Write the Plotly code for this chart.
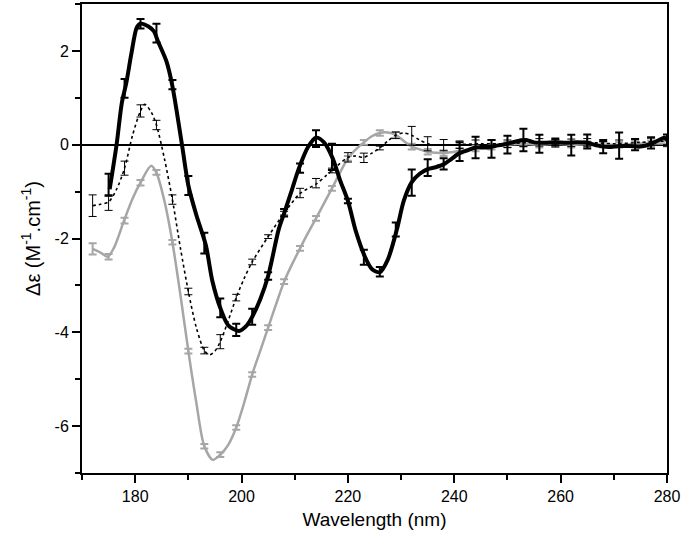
import plotly.graph_objects as go

# ---- black thick series (line) ----
black_wl = [175.2, 176.5, 177.5, 178.3, 179.3, 180.3, 181.0, 182.5, 183.5, 184.3, 185.9, 187.0,
            188.8, 190.0, 191.5, 193.3, 194.5, 196.0, 197.5, 199.5, 201.0, 202.0, 203.5, 205.0,
            207.0, 208.2, 209.5, 210.8, 212.5, 214.0, 215.5, 217.1, 218.5, 220.0, 221.5, 223.2,
            224.5, 226.0, 227.5, 229.2, 230.5, 232.0, 233.5, 235.0, 236.5, 238.0, 239.5, 241.0,
            242.5, 244.0, 246.0, 248.0, 250.0, 252.0, 253.5, 255.0, 257.0, 259.0, 261.0, 263.0,
            265.0, 267.0, 269.0, 271.0, 273.0, 275.0, 277.0, 278.5, 279.5, 280.0]
black_de = [-0.95, 0.0, 0.9, 1.3, 1.95, 2.5, 2.58, 2.52, 2.42, 2.2, 1.77, 1.25,
            0.0, -0.87, -1.5, -2.15, -2.9, -3.48, -3.85, -3.97, -3.85, -3.67, -3.3, -2.8,
            -1.8, -1.4, -0.95, -0.5, -0.05, 0.15, 0.05, -0.28, -0.75, -1.2, -1.85, -2.39,
            -2.65, -2.72, -2.45, -1.81, -1.2, -0.8, -0.62, -0.52, -0.48, -0.42, -0.3, -0.18,
            -0.12, -0.06, -0.06, -0.02, 0.02, 0.08, 0.1, 0.05, 0.04, 0.05, 0.04, 0.05,
            0.04, -0.02, -0.05, -0.03, -0.03, -0.04, 0.02, 0.1, 0.15, 0.1]
# ---- black error bars ----
black_err_wl = [175, 178, 181, 184, 187, 190, 193, 196, 199, 202, 205, 208, 211, 214, 217, 220,
                223, 226, 229, 232, 235, 238, 241, 244, 247, 250, 253, 256, 259, 262, 265, 268,
                271, 274, 277, 280]
black_err_de = [-0.85, 1.2, 2.58, 2.38, 1.28, -0.87, -2.1, -3.48, -3.95, -3.67, -2.8, -1.45,
                -0.5, 0.13, -0.26, -1.2, -2.4, -2.71, -1.81, -0.81, -0.49, -0.41, -0.15, -0.06,
                -0.09, 0.0, 0.1, 0.02, 0.06, -0.01, 0.07, -0.05, -0.02, 0.0, 0.04, 0.1]
black_err_sd = [0.23, 0.2, 0.1, 0.2, 0.1, 0.2, 0.22, 0.2, 0.13, 0.17, 0.08, 0.08,
                0.1, 0.18, 0.28, 0.05, 0.16, 0.1, 0.15, 0.28, 0.18, 0.12, 0.2, 0.23,
                0.19, 0.19, 0.24, 0.19, 0.07, 0.22, 0.15, 0.13, 0.28, 0.12, 0.12, 0.12]

# ---- dotted series (line) ----
dot_wl = [172.0, 173.5, 175.0, 176.5, 178.0, 179.5, 181.0, 181.8, 183.0, 184.0, 185.5, 187.0,
          188.5, 190.0, 191.5, 193.0, 194.0, 195.0, 196.0, 197.5, 199.0, 200.5, 202.0, 205.0,
          208.0, 211.0, 214.0, 216.0, 218.0, 220.0, 221.5, 223.0, 224.5, 226.0, 227.5, 229.0,
          230.5, 232.0, 233.5, 235.0, 236.5, 238.0, 240.0, 245.0, 250.0, 255.0, 260.0, 265.0,
          270.0, 275.0, 280.0]
dot_de = [-1.3, -1.27, -1.22, -0.95, -0.5, 0.2, 0.72, 0.86, 0.7, 0.42, -0.3, -1.17,
          -2.2, -3.13, -3.9, -4.39, -4.48, -4.4, -4.2, -3.75, -3.26, -2.85, -2.5, -1.96,
          -1.46, -1.04, -0.84, -0.65, -0.45, -0.27, -0.24, -0.27, -0.18, -0.07, 0.08, 0.2,
          0.25, 0.2, 0.1, 0.02, -0.01, -0.01, 0.0, 0.02, 0.02, 0.05, 0.03, 0.05,
          0.02, 0.05, 0.08]
dot_err_wl = [172, 175, 178, 181, 184, 187, 190, 193, 196, 199, 202, 205, 208, 211, 214, 217,
              220, 223, 226, 229, 232, 235, 238, 241, 244, 247, 250, 253, 256, 259, 262, 265,
              268, 271, 274, 277, 280]
dot_err_de = [-1.3, -1.25, -0.5, 0.72, 0.42, -1.17, -3.13, -4.39, -4.2, -3.26, -2.5, -1.96,
              -1.46, -1.03, -0.82, -0.55, -0.27, -0.28, -0.07, 0.2, 0.19, 0.02, -0.01, 0.0,
              0.02, 0.02, 0.02, 0.04, 0.05, 0.03, 0.04, 0.05, 0.03, 0.02, 0.04, 0.06, 0.08]
dot_err_sd = [0.23, 0.15, 0.15, 0.13, 0.1, 0.1, 0.07, 0.07, 0.15, 0.07, 0.06, 0.04,
              0.04, 0.1, 0.1, 0.05, 0.1, 0.1, 0.04, 0.07, 0.2, 0.15, 0.12, 0.08,
              0.08, 0.08, 0.08, 0.08, 0.08, 0.08, 0.08, 0.08, 0.08, 0.08, 0.08, 0.08, 0.08]

# ---- gray series (line) ----
gray_wl = [172.0, 173.5, 174.8, 176.0, 177.9, 179.5, 181.0, 183.0, 184.0, 185.5, 187.0, 188.5,
           190.0, 191.5, 193.0, 194.6, 196.0, 197.5, 199.0, 200.5, 202.0, 203.5, 205.0, 206.5,
           208.0, 209.5, 211.0, 212.5, 214.0, 215.5, 217.0, 218.5, 220.0, 221.5, 223.0, 224.5,
           226.0, 227.5, 229.0, 230.5, 232.0, 233.5, 235.0, 236.5, 238.0, 239.5, 241.0, 244.0,
           247.0, 250.0, 253.0, 256.0, 259.0, 262.0, 265.0, 268.0, 271.0, 274.0, 277.0, 280.0]
gray_de = [-2.22, -2.3, -2.39, -2.2, -1.62, -1.15, -0.81, -0.45, -0.6, -1.2, -2.08, -3.2,
           -4.4, -5.5, -6.43, -6.72, -6.61, -6.4, -6.03, -5.5, -4.9, -4.4, -3.9, -3.4,
           -2.92, -2.55, -2.21, -1.88, -1.57, -1.25, -0.93, -0.6, -0.29, -0.1, 0.05, 0.18,
           0.25, 0.26, 0.21, 0.08, -0.04, -0.1, -0.15, -0.17, -0.18, -0.16, -0.13, -0.08,
           -0.04, 0.0, 0.02, 0.0, 0.02, 0.0, 0.01, 0.0, 0.0, 0.02, 0.03, 0.02]
gray_err_wl = [172, 175, 178, 181, 184, 187, 190, 193, 196, 199, 202, 205, 208, 211, 214, 217,
               220, 223, 226, 229, 232, 235, 238, 241, 244, 247, 250, 253, 256, 259, 262, 265,
               268, 271, 274, 277, 280]
gray_err_de = [-2.22, -2.39, -1.62, -0.81, -0.59, -2.08, -4.4, -6.43, -6.61, -6.03, -4.9, -3.9,
               -2.92, -2.21, -1.57, -0.93, -0.29, 0.05, 0.25, 0.21, -0.04, -0.15, -0.18, -0.13,
               -0.08, -0.04, 0.0, 0.02, 0.0, 0.02, 0.0, 0.01, 0.0, 0.0, 0.02, 0.03, 0.02]
gray_err_sd = [0.12, 0.06, 0.06, 0.06, 0.05, 0.05, 0.05, 0.05, 0.05, 0.05, 0.05, 0.05,
               0.05, 0.05, 0.05, 0.05, 0.05, 0.05, 0.06, 0.06, 0.06, 0.06, 0.06, 0.06,
               0.06, 0.06, 0.06, 0.06, 0.06, 0.06, 0.06, 0.06, 0.06, 0.06, 0.06, 0.06, 0.06]

y_tickvals = [-6, -4, -2, 0, 2]
y_ticktext = ["-6", "-4", "-2", "0", "2"]
x_tickvals = [180, 200, 220, 240, 260, 280]

GRAY = "#a6a6a6"
FONT = "Liberation Sans, Arial, sans-serif"

fig = go.Figure()


def add_series(wl, de, ewl, ede, esd, color, width, dash, ethick, ewidth):
    fig.add_trace(go.Scatter(x=wl, y=de, mode="lines",
                             line=dict(color=color, width=width, dash=dash,
                                       shape="spline", smoothing=0.8),
                             hoverinfo="skip", showlegend=False))
    fig.add_trace(go.Scatter(x=ewl, y=ede, mode="markers",
                             marker=dict(size=1, opacity=0),
                             error_y=dict(type="data", array=esd, visible=True,
                                          color=color, thickness=ethick, width=ewidth),
                             hoverinfo="skip", showlegend=False))


add_series(gray_wl, gray_de, gray_err_wl, gray_err_de, gray_err_sd, GRAY, 2.5, "solid", 2, 4)
add_series(dot_wl, dot_de, dot_err_wl, dot_err_de, dot_err_sd, "black", 1.6, "dot", 1, 4)
add_series(black_wl, black_de, black_err_wl, black_err_de, black_err_sd, "black", 4, "solid", 2, 4)

fig.update_layout(
    width=683, height=541,
    margin=dict(l=82, r=16, t=2, b=68),
    plot_bgcolor="white", paper_bgcolor="white",
    font=dict(family=FONT, size=15, color="black"),
)
fig.update_xaxes(
    range=[170, 280], tickmode="array", tickvals=x_tickvals,
    ticks="outside", ticklen=8, tickwidth=1.5, tickcolor="black",
    minor=dict(tickmode="linear", tick0=170, dtick=10, ticks="outside", ticklen=5,
               tickwidth=1.5, tickcolor="black"),
    showline=True, linecolor="black", linewidth=2, mirror=True,
    showgrid=False, zeroline=False,
    tickfont=dict(size=16),
    title=dict(text="Wavelength (nm)", font=dict(size=19), standoff=8),
)
fig.update_yaxes(
    range=[-7, 3], tickmode="array", tickvals=y_tickvals, ticktext=y_ticktext,
    ticks="outside", ticklen=8, tickwidth=1.5, tickcolor="black",
    minor=dict(tickmode="linear", tick0=-7, dtick=1, ticks="outside", ticklen=5,
               tickwidth=1.5, tickcolor="black"),
    showline=True, linecolor="black", linewidth=2, mirror=True,
    showgrid=False, zeroline=True, zerolinecolor="black", zerolinewidth=2,
    tickfont=dict(size=16),
    title=dict(text="Δε (M<sup>-1</sup>.cm<sup>-1</sup>)", font=dict(size=20), standoff=9),
)

fig.write_html("out.html", config={"displayModeBar": False},
               post_script="document.body.style.margin='0';document.body.style.padding='0';")
